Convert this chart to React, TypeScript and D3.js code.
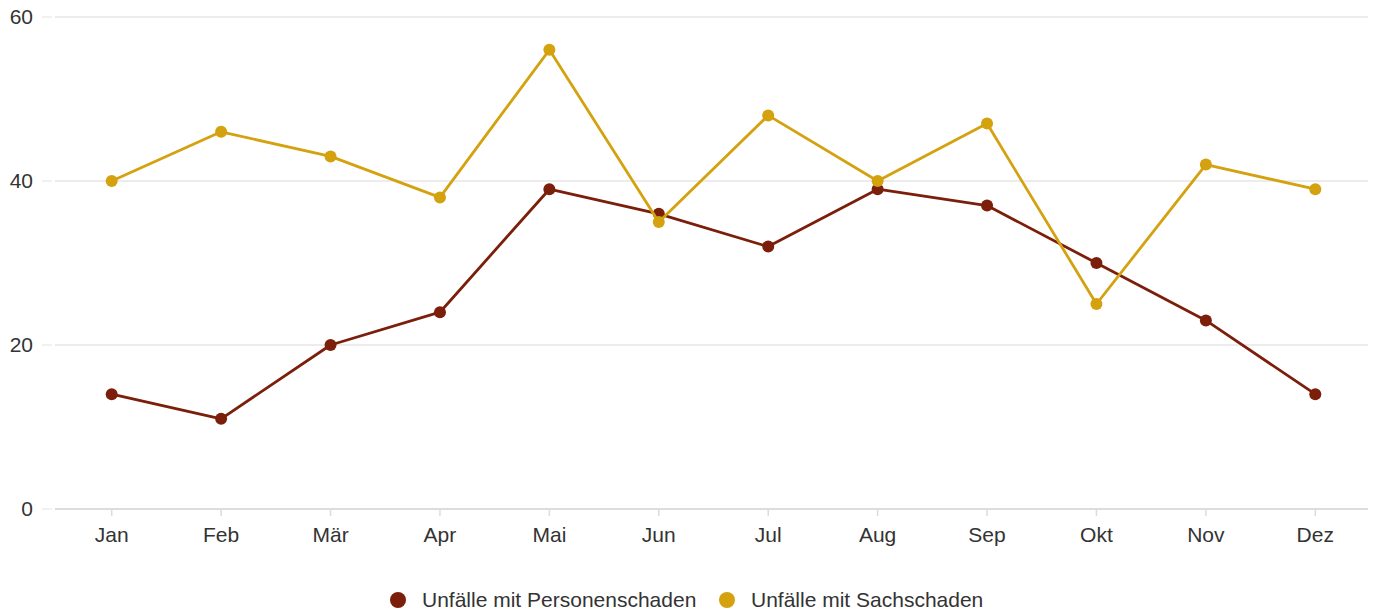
import { useEffect, useRef } from "react"
import * as d3 from "d3"

const months = ["Jan", "Feb", "Mär", "Apr", "Mai", "Jun", "Jul", "Aug", "Sep", "Okt", "Nov", "Dez"]
const personenschaden = [14, 11, 20, 24, 39, 36, 32, 39, 37, 30, 23, 14]
const sachschaden = [40, 46, 43, 38, 56, 35, 48, 40, 47, 25, 42, 39]
const yTicks = [0, 20, 40, 60]

const seriesNames = ["Unfälle mit Personenschaden", "Unfälle mit Sachschaden"]
const seriesColors = ["#7b1f0b", "#d4a10f"]

export default function App() {
  const svgRef = useRef<SVGSVGElement>(null)

  useEffect(() => {
    if (!svgRef.current) return
    const W = 1374
    const H = 611
    const font = "'Liberation Sans', Arial, sans-serif"

    const svg = d3.select(svgRef.current)
    svg.selectAll("*").remove()
    svg.attr("width", W).attr("height", H).style("display", "block").style("font-family", font)

    const x = d3.scalePoint<string>().domain(months).range([57, 1370]).padding(0.5)
    const y = d3.scaleLinear().domain([0, 60]).range([509, 17])

    // Grid lines
    const grid = svg.append("g")
    yTicks.forEach((t) => {
      grid
        .append("line")
        .attr("x1", 42)
        .attr("x2", 52)
        .attr("y1", y(t))
        .attr("y2", y(t))
        .attr("stroke", "#ececec")
        .attr("stroke-width", 1.5)
      grid
        .append("line")
        .attr("x1", 55)
        .attr("x2", 1368)
        .attr("y1", y(t))
        .attr("y2", y(t))
        .attr("stroke", t === 0 ? "#dcdcdc" : "#e6e6e6")
        .attr("stroke-width", t === 0 ? 2 : 1.5)
      grid
        .append("text")
        .attr("x", 33)
        .attr("y", y(t))
        .attr("dy", "0.35em")
        .attr("text-anchor", "end")
        .attr("fill", "#333")
        .style("font-size", "21px")
        .text(t)
    })

    // X axis ticks and labels
    const xa = svg.append("g")
    months.forEach((m) => {
      xa.append("line")
        .attr("x1", x(m)!)
        .attr("x2", x(m)!)
        .attr("y1", 510)
        .attr("y2", 516)
        .attr("stroke", "#dcdcdc")
        .attr("stroke-width", 1.5)
      xa.append("text")
        .attr("x", x(m)!)
        .attr("y", 542)
        .attr("text-anchor", "middle")
        .attr("fill", "#333")
        .style("font-size", "21px")
        .text(m)
    })

    const line = d3
      .line<number>()
      .x((_, i) => x(months[i])!)
      .y((d) => y(d))

    ;[personenschaden, sachschaden].forEach((data, si) => {
      const g = svg.append("g")
      g.append("path")
        .attr("d", line(data))
        .attr("fill", "none")
        .attr("stroke", seriesColors[si])
        .attr("stroke-width", 2.8)
        .attr("stroke-linejoin", "round")
      g.selectAll("circle")
        .data(data)
        .enter()
        .append("circle")
        .attr("cx", (_, i) => x(months[i])!)
        .attr("cy", (d) => y(d))
        .attr("r", 6)
        .attr("fill", seriesColors[si])
    })

    // Legend
    const legend = svg.append("g")
    const legendX = [398, 727]
    seriesNames.forEach((name, i) => {
      legend
        .append("circle")
        .attr("cx", legendX[i])
        .attr("cy", 600)
        .attr("r", 8)
        .attr("fill", seriesColors[i])
      legend
        .append("text")
        .attr("x", legendX[i] + 24)
        .attr("y", 600)
        .attr("dy", "0.35em")
        .attr("fill", "#333")
        .style("font-size", "21px")
        .text(name)
    })
  }, [])

  return (
    <div style={{ position: "fixed", left: 0, top: 0, background: "#fff" }}>
      <svg ref={svgRef}></svg>
    </div>
  )
}
